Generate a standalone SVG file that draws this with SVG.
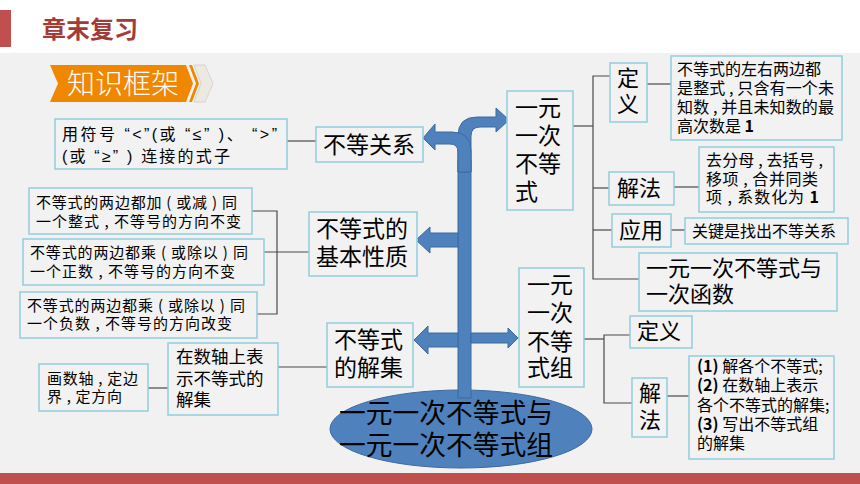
<svg xmlns="http://www.w3.org/2000/svg" width="860" height="484" viewBox="0 0 860 484">
<style>
.bx{fill:#F2F2F2;stroke:#92CDDC;stroke-width:1.5}
.t{font-family:"Noto Sans CJK SC","Microsoft YaHei",sans-serif;fill:#000}
.lat{font-family:"Liberation Sans",Arial,sans-serif}
.s15{font-size:15px}
.s16{font-size:16px}
.s17{font-size:17.5px}
.s22{font-size:22px}
.s23{font-size:23px}
.b{font-weight:bold}
.ln{stroke:#4a4a4a;stroke-width:1.2;fill:none}
.ar{fill:#4F81BD;stroke:#3D6A9E;stroke-width:1}
</style>
<rect x="0" y="0" width="860" height="484" fill="#FFFFFF"/>
<rect x="0" y="53" width="860" height="420" fill="#F1F1F1"/>
<rect x="0" y="473" width="860" height="11" fill="#C0504D"/>
<rect x="0" y="10" width="11" height="37" fill="#C0504D"/>
<text x="42" y="38" font-family="'Noto Sans CJK SC',sans-serif" font-size="24" font-weight="bold" fill="#A33B39">章末复习</text>

<g id="banner">
<polygon points="50,65 186,65 193,83.5 186,102 50,102 58,83.5" fill="#EF8700"/>
<polygon points="189,65 192,65 199,83.5 192,102 189,102 196,83.5" fill="#EF8700"/>
<polygon points="194,65 205,65 213,83.5 205,102 194,102 201,83.5" fill="#ECE9E2" stroke="#D2CEC6" stroke-width="0.8"/>
<text x="67" y="94" font-family="'Noto Sans CJK SC',sans-serif" font-size="28" font-weight="300" fill="#FFFFFF">知识框架</text>
</g>

<g id="connectors">
<line class="ln" x1="287" y1="141" x2="316" y2="141"/>
<polyline class="ln" points="252,211 277,211 277,314 257,314"/>
<line class="ln" x1="264" y1="252" x2="309" y2="252"/>
<line class="ln" x1="278" y1="367" x2="327" y2="367"/>
<line class="ln" x1="148" y1="388" x2="168" y2="388"/>
<line class="ln" x1="573" y1="126" x2="593" y2="126"/>
<polyline class="ln" points="610,76 593,76 593,279 639,279"/>
<line class="ln" x1="593" y1="188" x2="609" y2="188"/>
<line class="ln" x1="593" y1="230" x2="612" y2="230"/>
<line class="ln" x1="647" y1="84" x2="671" y2="84"/>
<line class="ln" x1="674" y1="187" x2="699" y2="187"/>
<line class="ln" x1="671" y1="230" x2="685" y2="230"/>
<line class="ln" x1="584" y1="339" x2="604" y2="339"/>
<polyline class="ln" points="630,335 604,335 604,403 632,403"/>
<line class="ln" x1="667" y1="396" x2="689" y2="396"/>
</g>

<g id="center">
<ellipse cx="461" cy="429" rx="131" ry="39" fill="#4F81BD" stroke="#3D6A9E" stroke-width="1"/>
<rect class="ar" x="458" y="160" width="13" height="238"/>
<path class="ar" d="M458 172 L458 136 Q458 117 477 117 L496 117 L496 108 L509 120 L496 132 L496 127 L480 127 Q471 127 471 136 L471 172 Z"/>
<path class="ar" d="M471 172 L471 151 Q471 132 452 132 L435 132 L435 124 L423 138 L435 150 L435 144 L450 144 Q458 144 458 152 L458 172 Z"/>
<path class="ar" d="M458 233 L430 233 L430 227 L416 240 L430 253 L430 247 L458 247 Z"/>
<path class="ar" d="M458 333 L428 333 L428 326 L414 340 L428 354 L428 347 L458 347 Z"/>
<path class="ar" d="M471 333 L508 333 L508 328 L518 338 L508 348 L508 343 L471 343 Z"/>
<text class="t" x="339" y="423" font-size="27" textLength="214" lengthAdjust="spacingAndGlyphs">一元一次不等式与</text>
<text class="t" x="339" y="455" font-size="27" textLength="214" lengthAdjust="spacingAndGlyphs">一元一次不等式组</text>
</g>

<g id="n-symbol">
<rect class="bx" x="55" y="119" width="232" height="50"/>
<text class="t s16" x="62" y="140" textLength="215" lengthAdjust="spacing">用符号<tspan class="lat"> “&lt;”(</tspan>或<tspan class="lat"> “≤” )</tspan>、<tspan class="lat"> “&gt;”</tspan></text>
<text class="t s16" x="62" y="162" textLength="168" lengthAdjust="spacing"><tspan class="lat">(</tspan>或<tspan class="lat"> “≥” ) </tspan>连接的式子</text>
</g>
<g id="n-relation">
<rect class="bx" x="316" y="127" width="107" height="35"/>
<text class="t s23" x="323" y="153">不等关系</text>
</g>
<g id="n-propA">
<rect class="bx" x="29" y="188" width="223" height="46"/>
<text class="t s15" x="36" y="208" textLength="201" lengthAdjust="spacing">不等式的两边都加 ( 或减 ) 同</text>
<text class="t s15" x="36" y="227" textLength="205" lengthAdjust="spacing">一个整式 , 不等号的方向不变</text>
</g>
<g id="n-propB">
<rect class="bx" x="23" y="239" width="241" height="46"/>
<text class="t s15" x="30" y="258" textLength="218" lengthAdjust="spacing">不等式的两边都乘 ( 或除以 ) 同</text>
<text class="t s15" x="30" y="277" textLength="205" lengthAdjust="spacing">一个正数 , 不等号的方向不变</text>
</g>
<g id="n-propC">
<rect class="bx" x="20" y="292" width="237" height="46"/>
<text class="t s15" x="27" y="311" textLength="218" lengthAdjust="spacing">不等式的两边都乘 ( 或除以 ) 同</text>
<text class="t s15" x="27" y="329" textLength="205" lengthAdjust="spacing">一个负数 , 不等号的方向改变</text>
</g>
<g id="n-property">
<rect class="bx" x="309" y="212" width="108" height="64"/>
<text class="t s23" x="316" y="237">不等式的</text>
<text class="t s23" x="316" y="265">基本性质</text>
</g>
<g id="n-solset">
<rect class="bx" x="327" y="323" width="86" height="64"/>
<text class="t s23" x="334" y="348">不等式</text>
<text class="t s23" x="334" y="376">的解集</text>
</g>
<g id="n-numline">
<rect class="bx" x="168" y="343" width="110" height="72"/>
<text class="t s17" x="176" y="363">在数轴上表</text>
<text class="t s17" x="176" y="385">示不等式的</text>
<text class="t s17" x="176" y="406">解集</text>
</g>
<g id="n-draw">
<rect class="bx" x="39" y="364" width="109" height="47"/>
<text class="t s15" x="47" y="384" textLength="91" lengthAdjust="spacing">画数轴 , 定边</text>
<text class="t s15" x="47" y="402" textLength="75" lengthAdjust="spacing">界 , 定方向</text>
</g>

<g id="n-ineq">
<rect class="bx" x="507" y="91" width="66" height="119"/>
<text class="t s23" x="515" y="116">一元</text>
<text class="t s23" x="515" y="144">一次</text>
<text class="t s23" x="515" y="172">不等</text>
<text class="t s23" x="515" y="200">式</text>
</g>
<g id="n-def1">
<rect class="bx" x="610" y="63" width="37" height="59"/>
<text class="t s22" x="617" y="86">定</text>
<text class="t s22" x="617" y="112">义</text>
</g>
<g id="n-def1-text">
<rect class="bx" x="671" y="56" width="171" height="84"/>
<text class="t s16" x="677" y="75">不等式的左右两边都</text>
<text class="t s16" x="677" y="94" textLength="157" lengthAdjust="spacing">是整式 , 只含有一个未</text>
<text class="t s16" x="677" y="113" textLength="157" lengthAdjust="spacing">知数 , 并且未知数的最</text>
<text class="t s16" x="677" y="132">高次数是 <tspan class="b">1</tspan></text>
</g>
<g id="n-solve1">
<rect class="bx" x="609" y="172" width="65" height="33"/>
<text class="t s22" x="617" y="196">解法</text>
</g>
<g id="n-solve1-text">
<rect class="bx" x="699" y="147" width="135" height="65"/>
<text class="t s16" x="706" y="166" textLength="117" lengthAdjust="spacing">去分母 , 去括号 ,</text>
<text class="t s16" x="706" y="185" textLength="112" lengthAdjust="spacing">移项 , 合并同类</text>
<text class="t s16" x="706" y="203" textLength="113" lengthAdjust="spacing">项 , 系数化为 <tspan class="b">1</tspan></text>
</g>
<g id="n-apply">
<rect class="bx" x="612" y="214" width="59" height="33"/>
<text class="t s22" x="619" y="238">应用</text>
</g>
<g id="n-apply-text">
<rect class="bx" x="685" y="218" width="163" height="26"/>
<text class="t s16" x="692" y="237">关键是找出不等关系</text>
</g>
<g id="n-func">
<rect class="bx" x="639" y="253" width="198" height="58"/>
<text class="t s22" x="646" y="276">一元一次不等式与</text>
<text class="t s22" x="646" y="302">一次函数</text>
</g>

<g id="n-system">
<rect class="bx" x="519" y="268" width="65" height="119"/>
<text class="t s23" x="527" y="293">一元</text>
<text class="t s23" x="527" y="321">一次</text>
<text class="t s23" x="527" y="350">不等</text>
<text class="t s23" x="527" y="376">式组</text>
</g>
<g id="n-def2">
<rect class="bx" x="630" y="316" width="62" height="32"/>
<text class="t s22" x="637" y="339">定义</text>
</g>
<g id="n-solve2">
<rect class="bx" x="632" y="378" width="35" height="59"/>
<text class="t s22" x="639" y="401">解</text>
<text class="t s22" x="639" y="428">法</text>
</g>
<g id="n-solve2-text">
<rect class="bx" x="689" y="356" width="145" height="103"/>
<text class="t s16" x="697" y="372"><tspan class="b">(1)</tspan> 解各个不等式;</text>
<text class="t s16" x="697" y="391"><tspan class="b">(2)</tspan> 在数轴上表示</text>
<text class="t s16" x="697" y="411">各个不等式的解集;</text>
<text class="t s16" x="697" y="430"><tspan class="b">(3)</tspan> 写出不等式组</text>
<text class="t s16" x="697" y="449">的解集</text>
</g>
</svg>
